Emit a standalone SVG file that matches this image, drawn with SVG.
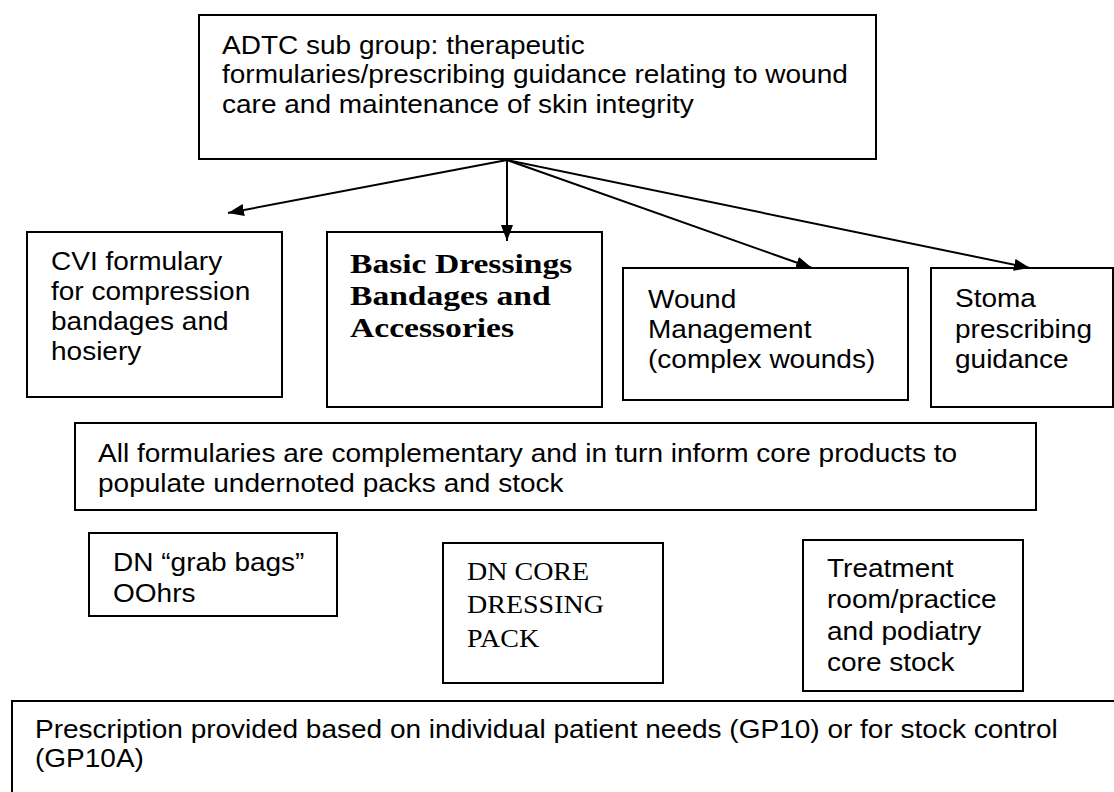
<svg xmlns="http://www.w3.org/2000/svg" width="1114" height="792" viewBox="0 0 1114 792">
<style>
.box{fill:#fff;stroke:#000;stroke-width:2}
.t{font-family:"Liberation Sans",Arial,sans-serif;font-size:25.6px;fill:#000}
.tb{font-family:"Liberation Serif","Times New Roman",serif;font-size:28px;font-weight:bold;fill:#000}
.tr{font-family:"Liberation Serif","Times New Roman",serif;font-size:25.6px;fill:#000}
.edge{stroke:#000;stroke-width:2;fill:none;marker-end:url(#ah)}
</style>
<defs>
<marker id="ah" viewBox="0 0 16 12" refX="16" refY="6" markerWidth="16" markerHeight="12" markerUnits="userSpaceOnUse" orient="auto">
<path d="M0,0 L16,6 L0,12 z" fill="#000"/>
</marker>
</defs>
<rect width="1114" height="792" fill="#fff"/>
<g id="top">
<rect class="box" x="199" y="15" width="677" height="144"/>
<text class="t" transform="translate(222,54) scale(1.094,1)"><tspan x="0" y="0">ADTC sub group: therapeutic</tspan><tspan x="0" y="29.5">formularies/prescribing guidance relating to wound</tspan><tspan x="0" y="59">care and maintenance of skin integrity</tspan></text>
</g>
<g id="cvi">
<rect class="box" x="27" y="232" width="255" height="165"/>
<text class="t" transform="translate(51,270) scale(1.094,1)"><tspan x="0" y="0">CVI formulary</tspan><tspan x="0" y="30">for compression</tspan><tspan x="0" y="60.5">bandages and</tspan><tspan x="0" y="90">hosiery</tspan></text>
</g>
<g id="basic">
<rect class="box" x="327" y="232" width="275" height="175"/>
<text class="tb" transform="translate(350,273) scale(1.2,1)"><tspan x="0" y="0">Basic Dressings</tspan><tspan x="0" y="32">Bandages and</tspan><tspan x="0" y="64">Accessories</tspan></text>
</g>
<g id="wound">
<rect class="box" x="623" y="268" width="285" height="132"/>
<text class="t" transform="translate(648,308) scale(1.094,1)"><tspan x="0" y="0">Wound</tspan><tspan x="0" y="30">Management</tspan><tspan x="0" y="60">(complex wounds)</tspan></text>
</g>
<g id="stoma">
<rect class="box" x="931" y="268" width="182" height="139"/>
<text class="t" transform="translate(955,307) scale(1.094,1)"><tspan x="0" y="0">Stoma</tspan><tspan x="0" y="31">prescribing</tspan><tspan x="0" y="61">guidance</tspan></text>
</g>
<g id="all">
<rect class="box" x="75" y="423" width="961" height="87"/>
<text class="t" transform="translate(98,462) scale(1.094,1)"><tspan x="0" y="0">All formularies are complementary and in turn inform core products to</tspan><tspan x="0" y="30">populate undernoted packs and stock</tspan></text>
</g>
<g id="grab">
<rect class="box" x="89" y="533" width="248" height="83"/>
<text class="t" transform="translate(113,571) scale(1.094,1)"><tspan x="0" y="0">DN “grab bags”</tspan><tspan x="0" y="31">OOhrs</tspan></text>
</g>
<g id="core">
<rect class="box" x="443" y="543" width="220" height="140"/>
<text class="tr" transform="translate(467,580) scale(1.094,1)"><tspan x="0" y="0">DN CORE</tspan><tspan x="0" y="33">DRESSING</tspan><tspan x="0" y="67">PACK</tspan></text>
</g>
<g id="treatment">
<rect class="box" x="803" y="540" width="220" height="151"/>
<text class="t" transform="translate(827,577) scale(1.094,1)"><tspan x="0" y="0">Treatment</tspan><tspan x="0" y="31">room/practice</tspan><tspan x="0" y="63">and podiatry</tspan><tspan x="0" y="94">core stock</tspan></text>
</g>
<g id="prescription">
<rect class="box" x="12" y="701" width="1115" height="100"/>
<text class="t" transform="translate(35,738) scale(1.094,1)"><tspan x="0" y="0">Prescription provided based on individual patient needs (GP10) or for stock control</tspan><tspan x="0" y="29.5">(GP10A)</tspan></text>
</g>
<g id="connectors">
<line class="edge" x1="507" y1="160" x2="228" y2="213"/>
<line class="edge" x1="507" y1="160" x2="507" y2="241"/>
<line class="edge" x1="507" y1="160" x2="812" y2="268"/>
<line class="edge" x1="507" y1="160" x2="1030" y2="268"/>
</g>
</svg>
